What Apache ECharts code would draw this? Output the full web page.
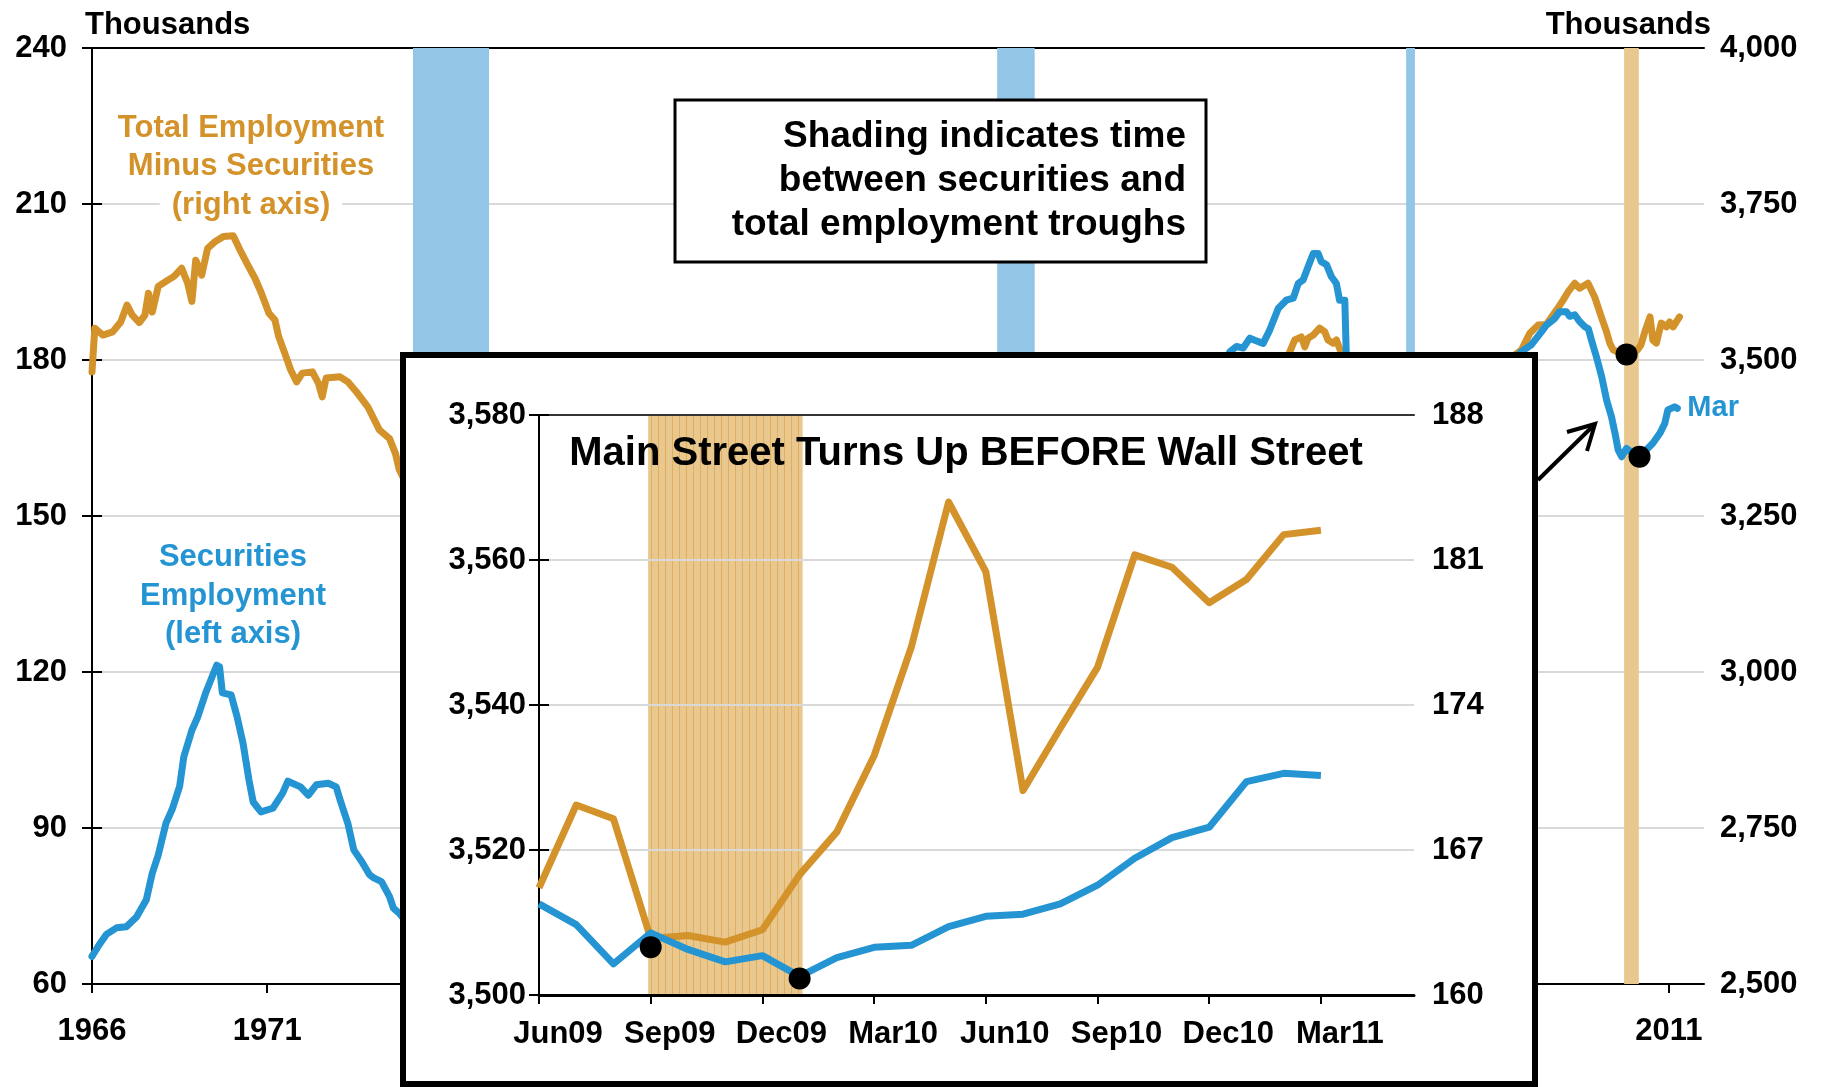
<!DOCTYPE html>
<html>
<head>
<meta charset="utf-8">
<title>Main Street Turns Up BEFORE Wall Street</title>
<script src="https://cdn.jsdelivr.net/npm/echarts@6/dist/echarts.min.js"></script>
<style>
  html, body { margin: 0; padding: 0; background: #fff; }
  #chart { width: 1825px; height: 1087px; }
</style>
</head>
<body>
<div id="chart"></div>
<script>
// ---- main chart: monthly-ish readings, decimal years ----
const secYears = [1966.0, 1966.2, 1966.42, 1966.7, 1966.98, 1967.27, 1967.55, 1967.72, 1967.89, 1968.11, 1968.3, 1968.5,
  1968.62, 1968.85, 1969.02, 1969.24, 1969.47, 1969.56, 1969.64, 1969.72, 1969.97, 1970.14, 1970.31, 1970.48, 1970.6,
  1970.82, 1971.16, 1971.44, 1971.59, 1971.95, 1972.17, 1972.4, 1972.74, 1972.97, 1973.08, 1973.3, 1973.47, 1973.7,
  1973.92, 1974.04, 1974.26, 1974.49, 1974.6, 1974.77,
  1975.2, 1976, 1977, 1978, 1979, 1980, 1981, 1982, 1983, 1984, 1985, 1986, 1987.7, 1988, 1989, 1990, 1991, 1991.8,
  1993, 1994, 1995, 1996, 1997, 1998,
  1998.47, 1998.66, 1998.85, 1999.04, 1999.18, 1999.42, 1999.61, 1999.85, 2000.08, 2000.28, 2000.42, 2000.56, 2000.7,
  2000.85, 2000.99, 2001.08, 2001.23, 2001.37, 2001.51, 2001.6, 2001.75, 2001.79,
  2002, 2002.5, 2003, 2003.5, 2004, 2005, 2006,
  2006.79, 2007.07, 2007.36, 2007.5, 2007.74, 2007.88, 2008.07, 2008.17, 2008.31, 2008.45, 2008.6, 2008.7, 2008.79,
  2008.93, 2009.08, 2009.22, 2009.36, 2009.46, 2009.55, 2009.65, 2009.79, 2009.98, 2010.16, 2010.35, 2010.54, 2010.74,
  2010.88, 2010.97, 2011.16, 2011.24];
const secValues = [65.3, 67.5, 69.6, 70.8, 71.0, 72.9, 76.2, 81.3, 84.8, 90.9, 93.8, 98,
  103.7, 108.8, 111.4, 115.9, 119.8, 121.3, 121, 116, 115.6, 111.4, 106.3, 99.2, 95,
  93.1, 93.8, 96.7, 99.0, 97.9, 96.3, 98.3, 98.6, 97.9, 95.4, 90.9, 85.8, 83.5,
  81, 80.4, 79.7, 76.8, 74.6, 73.6,
  70, 71, 74, 78, 83, 88, 95, 100, 111, 118, 128, 145, 163, 155, 148, 142, 134, 130,
  138, 145, 140, 150, 162, 175,
  181.6, 182.6, 182.3, 184.2, 183.8, 183.2, 185.8, 189.9, 191.5, 191.9, 194.7, 195.4, 197.9,
  200.5, 200.5, 198.9, 198.3, 196, 194.7, 191.5, 191.5, 181.6,
  175, 172, 164, 158, 163, 170, 176,
  181.6, 182.9, 185.4, 186.7, 188, 189.3, 189.3, 188.4, 188.7, 187.4, 186.4, 186, 183.8,
  180.6, 176.8, 172.3, 169.1, 165.9, 162.7, 161.4, 163, 162, 161.4, 162.7, 164, 165.9,
  167.8, 170.4, 171, 170.7];

const totYears = [1966.0, 1966.08, 1966.31, 1966.59, 1966.82, 1967.0, 1967.15, 1967.35, 1967.51, 1967.61, 1967.72,
  1967.89, 1968.11, 1968.34, 1968.56, 1968.73, 1968.85, 1968.96, 1969.13, 1969.3, 1969.52, 1969.75, 1970.03, 1970.2,
  1970.42, 1970.65, 1970.82, 1971.05, 1971.22, 1971.33, 1971.5, 1971.67, 1971.84, 1972.0, 1972.29, 1972.46, 1972.57,
  1972.68, 1973.08, 1973.3, 1973.53, 1973.87, 1974.2, 1974.49, 1974.66, 1974.77,
  1975.5, 1976.3, 1977.33, 1978.2, 1979.5, 1981, 1983, 1985, 1987, 1989, 1990.3, 1991.5, 1992.9, 1994, 1995.5, 1997,
  1998.5, 1999.5, 2000.1,
  2000.18, 2000.32, 2000.51, 2000.61, 2000.7, 2000.85, 2001.03, 2001.18, 2001.27, 2001.42, 2001.51, 2001.6,
  2001.8, 2002.5, 2003.2, 2003.75, 2004.5, 2005.5, 2006.3,
  2006.79, 2007.03, 2007.27, 2007.5, 2007.79, 2007.98, 2008.12, 2008.31, 2008.45, 2008.69, 2008.88, 2009.07, 2009.22,
  2009.31, 2009.41, 2009.55, 2009.69, 2009.79, 2009.98, 2010.1, 2010.2, 2010.31, 2010.46, 2010.54, 2010.64, 2010.78,
  2010.93, 2011.02, 2011.12, 2011.3];
const totValues = [3481, 3551, 3540, 3545, 3561, 3588, 3572, 3560, 3572, 3607, 3577,
  3618, 3626, 3634, 3647, 3623, 3594, 3660, 3636, 3679, 3690, 3698, 3699, 3679,
  3655, 3631, 3609, 3575, 3564, 3537, 3511, 3484, 3465, 3479, 3481, 3463, 3441,
  3471, 3473, 3465, 3450, 3425, 3388, 3374, 3350, 3324,
  3240, 3190, 3160, 3185, 3230, 3260, 3270, 3330, 3390, 3420, 3400, 3260, 3200, 3225, 3260, 3320,
  3400, 3470, 3505,
  3513, 3532, 3537, 3521, 3535, 3540, 3551, 3545, 3532, 3527, 3532, 3519,
  3490, 3440, 3415, 3405, 3420, 3460, 3495,
  3516, 3543, 3556, 3557, 3580, 3596, 3609, 3623, 3615, 3623, 3601, 3569, 3545,
  3527, 3516, 3513, 3512, 3510, 3512, 3516, 3524, 3545, 3569, 3532, 3527, 3559,
  3553, 3561, 3553, 3569];

// shaded spans between the two troughs
const bandStart = [1975.16, 1991.83, 2003.5, 2009.72];
const bandEnd = [1977.33, 1992.9, 2003.75, 2010.14];
const bandColor = ['#93C6E6', '#93C6E6', '#93C6E6', '#E8C88E'];

const secTrough = [2010.16, 161.4];
const totTrough = [2009.79, 3509];

// ---- inset: Jun09 .. Mar11 ----
const insetTicks = ['Jun09', 'Sep09', 'Dec09', 'Mar10', 'Jun10', 'Sep10', 'Dec10', 'Mar11'];
const insetTotal = [3514.8, 3526.2, 3524.3, 3507.8, 3508.2, 3507.3, 3509.0, 3516.6, 3522.5, 3533.0, 3548.0,
  3568.0, 3558.4, 3528.2, 3536.8, 3545.2, 3560.7, 3559.0, 3554.1, 3557.3, 3563.5, 3564.1];
const insetSec = [164.4, 163.4, 161.5, 163.0, 162.2, 161.6, 161.9, 160.9, 161.8, 162.3, 162.4,
  163.3, 163.8, 163.9, 164.4, 165.3, 166.6, 167.6, 168.1, 170.3, 170.7, 170.6];
const insetShade = [2.93, 7.08];
const insetTotTrough = [3, 3506.6];
const insetSecTrough = [7, 160.8];

const BASE = 1966;
const ORANGE = '#D4922A';
const BLUE = '#2494D3';
const FONT = '"Liberation Sans", Arial, sans-serif';

const tick = { color: '#000', fontSize: 31, fontWeight: 'bold', fontFamily: FONT };
const blackLine = { color: '#000', width: 2 };
const grey = { color: '#D9D9D9', width: 2 };
const dot = { color: '#000', opacity: 1 };

function comma(v) { return v.toLocaleString('en-US'); }

// vertical hatching for the inset shading
const hatch = document.createElement('canvas');
hatch.width = 7; hatch.height = 4;
const hc = hatch.getContext('2d');
hc.fillStyle = '#E8C88E'; hc.fillRect(0, 0, 7, 4);
hc.fillStyle = '#E2AE5C'; hc.fillRect(0, 0, 1, 4);

const chart = echarts.init(document.getElementById('chart'));

chart.setOption({
  animation: false,
  grid: [
    { left: 92, right: 121, top: 48, bottom: 103, outerBoundsMode: 'none' },
    { left: 539, right: 411, top: 415, bottom: 92, outerBoundsMode: 'none' }
  ],
  xAxis: [
    { gridIndex: 0, type: 'value', min: 0, max: 46, interval: 5,
      axisLine: { show: true, lineStyle: blackLine }, axisTick: { show: true, length: 9, lineStyle: blackLine },
      axisLabel: Object.assign({ margin: 32, showMaxLabel: false, formatter: v => String(v + BASE) }, tick),
      splitLine: { show: false } },
    { gridIndex: 0, type: 'value', position: 'top', min: 0, max: 46,
      axisLine: { show: true, lineStyle: blackLine }, axisTick: { show: false }, axisLabel: { show: false },
      splitLine: { show: false } },
    { gridIndex: 1, type: 'value', min: 0, max: 23.5, interval: 3, z: 58,
      axisLine: { show: true, lineStyle: { color: '#000', width: 3 } },
      axisTick: { show: true, length: 9, lineStyle: blackLine },
      axisLabel: Object.assign({ margin: 24, padding: [0, 0, 0, 38], showMaxLabel: false,
        formatter: v => insetTicks[v / 3] || '' }, tick),
      splitLine: { show: false } },
    { gridIndex: 1, type: 'value', position: 'top', min: 0, max: 23.5, z: 58,
      axisLine: { show: true, lineStyle: { color: '#333', width: 2 } }, axisTick: { show: false },
      axisLabel: { show: false }, splitLine: { show: false } }
  ],
  yAxis: [
    { gridIndex: 0, type: 'value', min: 60, max: 240, interval: 30,
      axisLine: { show: true, lineStyle: blackLine }, axisTick: { show: true, length: 10, lineStyle: blackLine },
      axisLabel: Object.assign({ margin: 25 }, tick), splitLine: { show: true, lineStyle: grey } },
    { gridIndex: 0, type: 'value', position: 'right', min: 2500, max: 4000, interval: 250,
      axisLine: { show: true, lineStyle: blackLine }, axisTick: { show: true, length: 10, lineStyle: blackLine },
      axisLabel: Object.assign({ margin: 16, formatter: comma }, tick), splitLine: { show: false } },
    { gridIndex: 1, type: 'value', min: 3500, max: 3580, interval: 20, z: 58,
      axisLine: { show: true, lineStyle: blackLine }, axisTick: { show: true, length: 10, lineStyle: blackLine },
      axisLabel: Object.assign({ margin: 13, formatter: comma }, tick), splitLine: { show: true, lineStyle: grey } },
    { gridIndex: 1, type: 'value', position: 'right', min: 160, max: 188, interval: 7, z: 58,
      axisLine: { show: true, lineStyle: blackLine }, axisTick: { show: true, length: 10, lineStyle: blackLine },
      axisLabel: Object.assign({ margin: 18 }, tick), splitLine: { show: false } }
  ],
  series: [
    { type: 'custom', xAxisIndex: 0, yAxisIndex: 0, z: 1, silent: true,
      data: bandStart.map((s, i) => [s - BASE, bandEnd[i] - BASE]),
      encode: { x: [0, 1] },
      renderItem: (params, api) => {
        const a = api.coord([api.value(0), 240]);
        const b = api.coord([api.value(1), 60]);
        return { type: 'rect', shape: { x: a[0], y: a[1], width: b[0] - a[0], height: b[1] - a[1] },
          style: { fill: bandColor[params.dataIndex] } };
      } },
    { type: 'line', name: 'Total Employment Minus Securities', xAxisIndex: 0, yAxisIndex: 1, z: 3,
      showSymbol: false, data: totYears.map((y, i) => [y - BASE, totValues[i]]),
      lineStyle: { color: ORANGE, width: 7, join: 'round', cap: 'round' }, itemStyle: { color: ORANGE } },
    { type: 'line', name: 'Securities Employment', xAxisIndex: 0, yAxisIndex: 0, z: 3,
      showSymbol: false, data: secYears.map((y, i) => [y - BASE, secValues[i]]),
      lineStyle: { color: BLUE, width: 7, join: 'round', cap: 'round' }, itemStyle: { color: BLUE },
      endLabel: { show: true, formatter: 'Mar', color: BLUE, fontSize: 29, fontWeight: 'bold',
        fontFamily: FONT, distance: 10 } },
    { type: 'scatter', xAxisIndex: 0, yAxisIndex: 1, z: 4, symbolSize: 22, itemStyle: dot,
      data: [[totTrough[0] - BASE, totTrough[1]]] },
    { type: 'scatter', xAxisIndex: 0, yAxisIndex: 0, z: 4, symbolSize: 22, itemStyle: dot,
      data: [[secTrough[0] - BASE, secTrough[1]]] },

    { type: 'custom', xAxisIndex: 2, yAxisIndex: 2, z: 55, silent: true,
      data: [insetShade], encode: { x: [0, 1] },
      renderItem: (params, api) => {
        const a = api.coord([api.value(0), 3580]);
        const b = api.coord([api.value(1), 3500]);
        return { type: 'rect', shape: { x: a[0], y: a[1], width: b[0] - a[0], height: b[1] - a[1] },
          style: { fill: { image: hatch, repeat: 'repeat' } } };
      } },
    { type: 'line', xAxisIndex: 2, yAxisIndex: 2, z: 60, showSymbol: false,
      data: insetTotal.map((v, i) => [i, v]),
      lineStyle: { color: ORANGE, width: 7, join: 'round' }, itemStyle: { color: ORANGE } },
    { type: 'line', xAxisIndex: 2, yAxisIndex: 3, z: 60, showSymbol: false,
      data: insetSec.map((v, i) => [i, v]),
      lineStyle: { color: BLUE, width: 7, join: 'round' }, itemStyle: { color: BLUE } },
    { type: 'scatter', xAxisIndex: 2, yAxisIndex: 2, z: 62, symbolSize: 22, itemStyle: dot,
      data: [insetTotTrough] },
    { type: 'scatter', xAxisIndex: 2, yAxisIndex: 3, z: 62, symbolSize: 22, itemStyle: dot,
      data: [insetSecTrough] }
  ],
  graphic: [
    { type: 'text', z: 5, left: 85, top: 10,
      style: { text: 'Thousands', fill: '#000', font: 'bold 31px ' + FONT } },
    { type: 'text', z: 5, right: 114, top: 10,
      style: { text: 'Thousands', fill: '#000', font: 'bold 31px ' + FONT } },

    { type: 'text', z: 6, x: 251, y: 128,
      style: { text: 'Total Employment', fill: ORANGE, font: 'bold 31px ' + FONT, align: 'center', verticalAlign: 'middle' } },
    { type: 'text', z: 6, x: 251, y: 166,
      style: { text: 'Minus Securities', fill: ORANGE, font: 'bold 31px ' + FONT, align: 'center', verticalAlign: 'middle' } },
    { type: 'text', z: 6, x: 251, y: 205,
      style: { text: '(right axis)', fill: ORANGE, font: 'bold 31px ' + FONT, align: 'center', verticalAlign: 'middle',
        backgroundColor: '#fff', padding: [0, 12] } },
    { type: 'text', z: 6, x: 233, y: 596,
      style: { text: 'Securities\nEmployment\n(left axis)', fill: BLUE, font: 'bold 31px ' + FONT, lineHeight: 38.5,
        align: 'center', verticalAlign: 'middle' } },

    { type: 'rect', z: 50, shape: { x: 675, y: 100, width: 531, height: 162 },
      style: { fill: '#fff', stroke: '#000', lineWidth: 3 } },
    { type: 'text', z: 51, x: 1186, y: 181,
      style: { text: 'Shading indicates time\nbetween securities and\ntotal employment troughs', fill: '#000',
        font: 'bold 37px ' + FONT, lineHeight: 44, align: 'right', verticalAlign: 'middle' } },

    { type: 'polyline', z: 6, shape: { points: [[1538, 480], [1594, 425]] },
      style: { stroke: '#000', lineWidth: 4, fill: null } },
    { type: 'polyline', z: 6, shape: { points: [[1567, 432], [1595, 424], [1587, 451]] },
      style: { stroke: '#000', lineWidth: 4, fill: null } },

    { type: 'rect', z: 50, shape: { x: 403, y: 355, width: 1132, height: 729 },
      style: { fill: '#fff', stroke: '#000', lineWidth: 6 } },
    { type: 'text', z: 63, x: 966, y: 454,
      style: { text: 'Main Street Turns Up BEFORE Wall Street', fill: '#000', font: 'bold 40px ' + FONT,
        align: 'center', verticalAlign: 'middle' } }
  ]
});
</script>
</body>
</html>
